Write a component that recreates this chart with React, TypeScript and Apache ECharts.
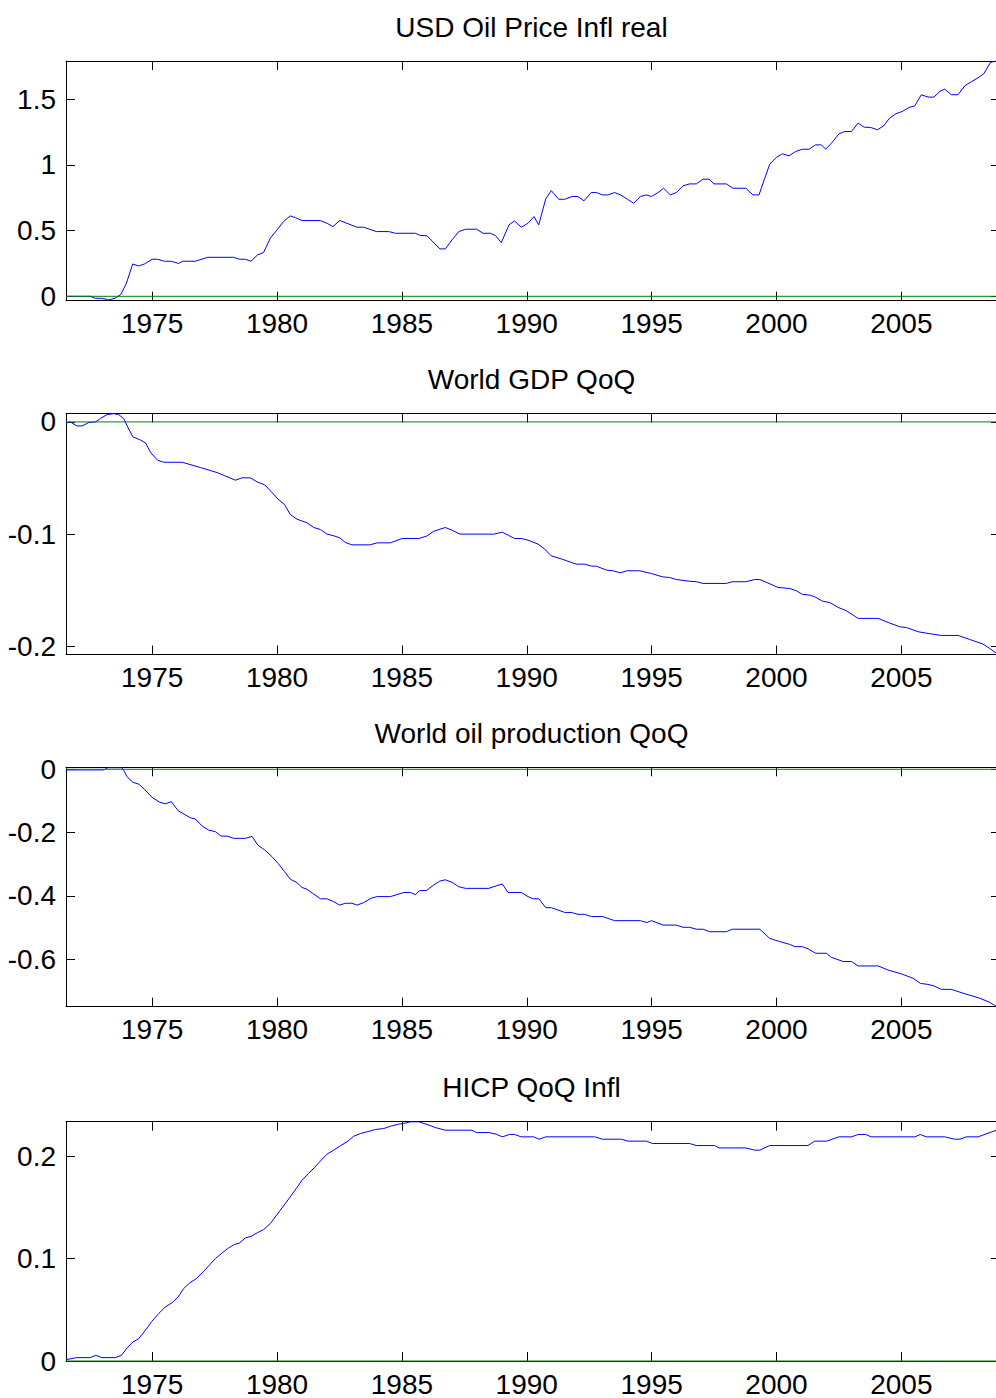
import React, { useEffect, useRef } from "react";
import * as echarts from "echarts";

const X_MIN = 1971.55;
const X_MAX = 2008.95;
const YEAR_TICKS = [1975, 1980, 1985, 1990, 1995, 2000, 2005];

const TITLES = [
  "USD Oil Price Infl real",
  "World GDP QoQ",
  "World oil production QoQ",
  "HICP QoQ Infl",
];

const OIL_PRICE: [number, number][] = [
  [1971.55, 0], [1972.52, 0], [1972.72, -0.015], [1972.99, -0.015], [1973.26, -0.028],
  [1973.53, -0.013], [1973.75, 0.015], [1973.97, 0.1], [1974.22, 0.246], [1974.46, 0.231],
  [1974.69, 0.246], [1975.0, 0.282], [1975.22, 0.282], [1975.49, 0.267], [1975.76, 0.267],
  [1976.06, 0.25], [1976.22, 0.267], [1976.73, 0.267], [1977.22, 0.297], [1978.26, 0.297],
  [1978.5, 0.282], [1978.73, 0.282], [1978.96, 0.267], [1979.22, 0.315], [1979.46, 0.333],
  [1979.73, 0.442], [1980.0, 0.506], [1980.26, 0.569], [1980.53, 0.612], [1980.73, 0.6],
  [1981.0, 0.577], [1981.73, 0.577], [1982.0, 0.556], [1982.24, 0.531], [1982.51, 0.577],
  [1982.8, 0.556], [1983.2, 0.526], [1983.47, 0.526], [1983.98, 0.493], [1984.47, 0.493],
  [1984.74, 0.48], [1985.54, 0.48], [1985.71, 0.465], [1986.01, 0.46], [1986.52, 0.361],
  [1986.74, 0.361], [1987.01, 0.43], [1987.28, 0.493], [1987.55, 0.511], [1987.99, 0.511],
  [1988.25, 0.48], [1988.55, 0.48], [1988.75, 0.462], [1988.98, 0.409], [1989.29, 0.544],
  [1989.51, 0.574], [1989.78, 0.526], [1990.05, 0.556], [1990.29, 0.607], [1990.48, 0.544],
  [1990.76, 0.742], [1990.98, 0.805], [1991.28, 0.739], [1991.52, 0.739], [1991.82, 0.76],
  [1992.05, 0.76], [1992.29, 0.727], [1992.58, 0.79], [1992.79, 0.79], [1993.03, 0.772],
  [1993.25, 0.772], [1993.52, 0.79], [1993.76, 0.772], [1994.03, 0.739], [1994.28, 0.709],
  [1994.55, 0.76], [1994.79, 0.772], [1994.99, 0.76], [1995.26, 0.79], [1995.48, 0.823],
  [1995.75, 0.772], [1995.99, 0.79], [1996.26, 0.841], [1996.52, 0.856], [1996.79, 0.856],
  [1997.06, 0.892], [1997.3, 0.892], [1997.5, 0.856], [1997.99, 0.856], [1998.26, 0.823],
  [1998.77, 0.823], [1999.06, 0.772], [1999.3, 0.772], [1999.53, 0.899], [1999.73, 1.006],
  [2000.0, 1.059], [2000.24, 1.085], [2000.5, 1.07], [2000.77, 1.103], [2001.04, 1.12],
  [2001.3, 1.12], [2001.56, 1.153], [2001.8, 1.153], [2001.97, 1.12], [2002.2, 1.166],
  [2002.5, 1.237], [2002.73, 1.255], [2003.0, 1.255], [2003.27, 1.319], [2003.51, 1.288],
  [2003.77, 1.286], [2004.04, 1.268], [2004.29, 1.298], [2004.53, 1.357], [2004.78, 1.39],
  [2005.04, 1.408], [2005.31, 1.438], [2005.54, 1.451], [2005.8, 1.535], [2006.07, 1.517],
  [2006.3, 1.517], [2006.54, 1.56], [2006.74, 1.578], [2007.0, 1.535], [2007.27, 1.535],
  [2007.54, 1.603], [2007.8, 1.634], [2008.07, 1.664], [2008.3, 1.695], [2008.57, 1.781],
  [2008.77, 1.792], [2008.95, 1.792],
];

const WORLD_GDP: [number, number][] = [
  [1971.55, -0.0009], [1971.72, 0], [1971.99, -0.0036], [1972.19, -0.0036], [1972.46, -0.0006],
  [1972.73, 0], [1972.93, 0.003], [1973.19, 0.0065], [1973.46, 0.0074], [1973.66, 0.0065],
  [1973.86, 0.003], [1974.02, -0.0045], [1974.23, -0.0134], [1974.5, -0.0158], [1974.73, -0.0187],
  [1974.95, -0.0276], [1975.22, -0.0342], [1975.46, -0.036], [1976.2, -0.036], [1976.93, -0.0407],
  [1977.6, -0.0452], [1978.33, -0.052], [1978.6, -0.0499], [1978.93, -0.0499], [1979.2, -0.0535],
  [1979.51, -0.0562], [1979.8, -0.063], [1980.04, -0.0689], [1980.3, -0.0737], [1980.53, -0.0826],
  [1980.8, -0.0868], [1981.2, -0.09], [1981.47, -0.0942], [1981.74, -0.096], [1982.0, -0.1001],
  [1982.27, -0.1016], [1982.51, -0.1034], [1982.74, -0.1076], [1983.0, -0.1097], [1983.71, -0.1097],
  [1984.01, -0.1079], [1984.54, -0.1079], [1985.01, -0.104], [1985.68, -0.104], [1985.99, -0.1019],
  [1986.28, -0.0975], [1986.74, -0.0942], [1987.01, -0.0966], [1987.32, -0.1001], [1988.68, -0.1001],
  [1989.02, -0.0984], [1989.25, -0.101], [1989.51, -0.104], [1989.78, -0.104], [1990.05, -0.1055],
  [1990.45, -0.109], [1990.72, -0.1135], [1990.98, -0.1195], [1991.45, -0.1227], [1991.98, -0.1269],
  [1992.32, -0.1269], [1992.59, -0.1287], [1992.79, -0.1287], [1993.19, -0.1322], [1993.45, -0.1328],
  [1993.75, -0.1346], [1994.01, -0.1328], [1994.52, -0.1328], [1994.99, -0.1352], [1995.43, -0.1382],
  [1995.72, -0.1388], [1995.99, -0.1406], [1996.46, -0.142], [1996.79, -0.1426], [1997.06, -0.1441],
  [1997.99, -0.1441], [1998.23, -0.1426], [1998.77, -0.1426], [1999.13, -0.1406], [1999.33, -0.1406],
  [1999.7, -0.1441], [2000.06, -0.1477], [2000.53, -0.1486], [2000.8, -0.1507], [2001.04, -0.1539],
  [2001.33, -0.1545], [2001.53, -0.156], [2001.84, -0.1599], [2002.13, -0.1611], [2002.47, -0.1655],
  [2002.8, -0.1685], [2003.27, -0.1753], [2004.07, -0.1753], [2004.47, -0.1789], [2004.94, -0.1828],
  [2005.2, -0.1834], [2005.67, -0.1872], [2006.07, -0.1887], [2006.6, -0.1905], [2007.27, -0.1905],
  [2007.74, -0.1941], [2008.27, -0.1982], [2008.54, -0.2021], [2008.81, -0.2065], [2008.95, -0.2075],
];

const OIL_PRODUCTION: [number, number][] = [
  [1971.55, -0.002], [1973.06, -0.002], [1973.22, 0.005], [1973.79, 0.005], [1973.89, -0.007],
  [1973.99, -0.023], [1974.23, -0.041], [1974.46, -0.047], [1974.69, -0.063], [1974.99, -0.088],
  [1975.3, -0.104], [1975.53, -0.109], [1975.77, -0.102], [1976.04, -0.131], [1976.33, -0.144],
  [1976.53, -0.153], [1976.73, -0.157], [1977.0, -0.179], [1977.26, -0.192], [1977.53, -0.197],
  [1977.76, -0.211], [1978.0, -0.211], [1978.27, -0.218], [1978.73, -0.218], [1979.0, -0.212],
  [1979.23, -0.239], [1979.51, -0.255], [1979.8, -0.276], [1980.04, -0.297], [1980.3, -0.323],
  [1980.53, -0.347], [1980.8, -0.358], [1981.0, -0.373], [1981.2, -0.379], [1981.47, -0.394],
  [1981.74, -0.409], [1982.0, -0.409], [1982.27, -0.418], [1982.51, -0.429], [1982.74, -0.423],
  [1983.0, -0.423], [1983.2, -0.429], [1983.47, -0.421], [1983.77, -0.407], [1984.01, -0.402],
  [1984.54, -0.402], [1985.08, -0.389], [1985.34, -0.389], [1985.54, -0.396], [1985.71, -0.383],
  [1985.98, -0.383], [1986.28, -0.365], [1986.52, -0.353], [1986.74, -0.349], [1987.01, -0.357],
  [1987.28, -0.371], [1987.55, -0.376], [1988.48, -0.376], [1988.78, -0.368], [1989.02, -0.362],
  [1989.25, -0.389], [1989.78, -0.389], [1990.05, -0.402], [1990.25, -0.409], [1990.49, -0.409],
  [1990.76, -0.437], [1990.98, -0.437], [1991.52, -0.452], [1991.78, -0.452], [1992.05, -0.458],
  [1992.32, -0.458], [1992.59, -0.465], [1993.03, -0.465], [1993.52, -0.478], [1994.55, -0.478],
  [1994.81, -0.484], [1994.99, -0.478], [1995.46, -0.492], [1995.99, -0.492], [1996.26, -0.499],
  [1996.52, -0.499], [1996.79, -0.505], [1997.06, -0.505], [1997.33, -0.513], [1997.99, -0.513],
  [1998.23, -0.505], [1999.33, -0.505], [1999.73, -0.534], [2000.13, -0.544], [2000.53, -0.553],
  [2000.73, -0.56], [2001.04, -0.56], [2001.26, -0.567], [2001.57, -0.581], [2002.0, -0.581],
  [2002.2, -0.594], [2002.67, -0.607], [2003.0, -0.607], [2003.27, -0.621], [2004.07, -0.621],
  [2004.47, -0.634], [2005.0, -0.646], [2005.47, -0.66], [2005.76, -0.676], [2006.03, -0.679],
  [2006.27, -0.683], [2006.6, -0.695], [2007.0, -0.695], [2007.47, -0.707], [2008.14, -0.723],
  [2008.54, -0.736], [2008.81, -0.749], [2008.95, -0.75],
];

const HICP: [number, number][] = [
  [1971.55, 0.0013], [1971.98, 0.0033], [1972.52, 0.0033], [1972.75, 0.0055], [1972.99, 0.0033],
  [1973.52, 0.0033], [1973.77, 0.0055], [1973.97, 0.012], [1974.23, 0.0186], [1974.46, 0.0218],
  [1974.73, 0.03], [1974.99, 0.0388], [1975.26, 0.0463], [1975.53, 0.0528], [1975.8, 0.057],
  [1976.04, 0.0625], [1976.26, 0.0707], [1976.5, 0.0762], [1976.77, 0.0805], [1977.0, 0.086],
  [1977.26, 0.0928], [1977.53, 0.1], [1977.8, 0.1055], [1978.06, 0.1104], [1978.29, 0.1137],
  [1978.5, 0.1153], [1978.73, 0.1202], [1978.96, 0.1218], [1979.22, 0.1254], [1979.46, 0.1283],
  [1979.73, 0.1342], [1980.0, 0.143], [1980.26, 0.1515], [1980.53, 0.1603], [1980.77, 0.1684],
  [1981.0, 0.1765], [1981.26, 0.1831], [1981.5, 0.1889], [1981.73, 0.1951], [1982.0, 0.202],
  [1982.27, 0.2059], [1982.53, 0.2101], [1982.8, 0.214], [1983.07, 0.2195], [1983.34, 0.2221],
  [1983.6, 0.2238], [1983.94, 0.2261], [1984.27, 0.227], [1984.54, 0.2293], [1984.87, 0.2313],
  [1985.07, 0.2319], [1985.34, 0.2336], [1985.68, 0.2336], [1986.01, 0.231], [1986.34, 0.228],
  [1986.74, 0.2254], [1987.81, 0.2254], [1987.99, 0.2231], [1988.48, 0.2231], [1988.78, 0.2215],
  [1989.02, 0.2189], [1989.31, 0.2212], [1989.51, 0.2212], [1989.78, 0.2189], [1990.28, 0.2189],
  [1990.49, 0.2166], [1990.76, 0.2189], [1992.72, 0.2189], [1993.03, 0.2166], [1993.79, 0.2166],
  [1994.05, 0.2147], [1994.79, 0.2147], [1995.03, 0.2124], [1996.52, 0.2124], [1996.79, 0.2104],
  [1997.52, 0.2104], [1997.7, 0.2081], [1998.77, 0.2081], [1999.13, 0.2059], [1999.33, 0.2059],
  [1999.73, 0.2104], [2001.26, 0.2104], [2001.53, 0.2147], [2002.0, 0.2147], [2002.5, 0.2189],
  [2003.0, 0.2189], [2003.27, 0.2212], [2003.57, 0.2212], [2003.8, 0.2189], [2005.54, 0.2189],
  [2005.76, 0.2212], [2006.0, 0.2189], [2006.74, 0.2189], [2007.14, 0.2166], [2007.34, 0.2166],
  [2007.6, 0.2189], [2008.07, 0.2189], [2008.81, 0.2254], [2008.95, 0.227],
];

const ZERO_LINE: [number, number][] = [
  [X_MIN, 0],
  [X_MAX, 0],
];

const SERIES_DATA = [OIL_PRICE, WORLD_GDP, OIL_PRODUCTION, HICP];

const Y_TICKS = [
  [0, 0.5, 1, 1.5],
  [-0.2, -0.1, 0],
  [-0.6, -0.4, -0.2, 0],
  [0, 0.1, 0.2],
];

const Y_LIMITS: [number, number][] = [
  [-0.0335, 1.792],
  [-0.2075, 0.0075],
  [-0.7497, 0.0063],
  [0, 0.2337],
];

// layout (pixels)
const GRID_LEFT = 66;
const GRID_WIDTH = 934;
const GRID_TOPS = [61, 413.5, 767.3, 1121.7];
const GRID_HEIGHTS = [239.7, 241, 239.4, 239.3];
const TITLE_OFFSET = 34;
const FONT = "'Liberation Sans', Arial, Helvetica, sans-serif";
const FONT_SIZE = 28;

function App() {
  const ref = useRef<HTMLDivElement>(null);

  useEffect(() => {
    document.body.style.margin = "0";
    document.body.style.overflow = "hidden";
    if (!ref.current) return;
    const chart = echarts.init(ref.current, undefined, { renderer: "svg" });

    const grids: any[] = [];
    const xAxes: any[] = [];
    const yAxes: any[] = [];
    const series: any[] = [];
    const graphics: any[] = [];

    const tickStyle = { color: "#000", width: 1 };

    for (let i = 0; i < 4; i++) {
      grids.push({
        left: GRID_LEFT,
        width: GRID_WIDTH,
        top: GRID_TOPS[i],
        height: GRID_HEIGHTS[i],
        containLabel: false,
        outerBoundsMode: "none",
      });
      // bottom x axis (labels)
      xAxes.push({
        type: "value",
        gridIndex: i,
        position: "bottom",
        min: X_MIN,
        max: X_MAX,
        axisLine: { show: true, onZero: false, lineStyle: { color: "#000", width: 1 } },
        axisTick: { show: true, inside: true, length: 9, lineStyle: tickStyle, customValues: YEAR_TICKS },
        axisLabel: {
          show: true,
          customValues: YEAR_TICKS,
          margin: 9,
          color: "#000",
          fontSize: FONT_SIZE,
          fontFamily: FONT,
          formatter: (v: number) => String(Math.round(v)),
        },
        splitLine: { show: false },
      });
      // top x axis (box)
      xAxes.push({
        type: "value",
        gridIndex: i,
        position: "top",
        min: X_MIN,
        max: X_MAX,
        axisLine: { show: true, onZero: false, lineStyle: { color: "#000", width: 1 } },
        axisTick: { show: true, inside: true, length: 9, lineStyle: tickStyle, customValues: YEAR_TICKS },
        axisLabel: { show: false },
        splitLine: { show: false },
      });
      // left y axis (labels)
      yAxes.push({
        type: "value",
        gridIndex: i,
        position: "left",
        min: Y_LIMITS[i][0],
        max: Y_LIMITS[i][1],
        axisLine: { show: true, onZero: false, lineStyle: { color: "#000", width: 1 } },
        axisTick: { show: true, inside: true, length: 9, lineStyle: tickStyle, customValues: Y_TICKS[i] },
        axisLabel: {
          show: true,
          customValues: Y_TICKS[i],
          margin: 10,
          color: "#000",
          fontSize: FONT_SIZE,
          fontFamily: FONT,
          formatter: (v: number) => String(Math.round(v * 100) / 100),
        },
        splitLine: { show: false },
      });
      // right y axis (box)
      yAxes.push({
        type: "value",
        gridIndex: i,
        position: "right",
        min: Y_LIMITS[i][0],
        max: Y_LIMITS[i][1],
        axisLine: { show: true, onZero: false, lineStyle: { color: "#000", width: 1 } },
        axisTick: { show: true, inside: true, length: 9, lineStyle: tickStyle, customValues: Y_TICKS[i] },
        axisLabel: { show: false },
        splitLine: { show: false },
      });

      series.push({
        type: "line",
        name: TITLES[i],
        xAxisIndex: i * 2,
        yAxisIndex: i * 2,
        data: SERIES_DATA[i],
        showSymbol: false,
        symbol: "none",
        clip: true,
        lineStyle: { color: "#0000ff", width: 1 },
        itemStyle: { color: "#0000ff" },
        silent: true,
        z: 2,
      });
      series.push({
        type: "line",
        name: "zero",
        xAxisIndex: i * 2,
        yAxisIndex: i * 2,
        data: ZERO_LINE,
        showSymbol: false,
        symbol: "none",
        clip: false,
        lineStyle: { color: "#008000", width: 1 },
        itemStyle: { color: "#008000" },
        silent: true,
        z: 3,
      });

      graphics.push({
        type: "text",
        x: GRID_LEFT + (997 - GRID_LEFT) / 2,
        y: GRID_TOPS[i] - TITLE_OFFSET,
        style: {
          text: TITLES[i],
          fill: "#000",
          fontSize: FONT_SIZE,
          fontFamily: FONT,
          align: "center",
          verticalAlign: "middle",
          textAlign: "center",
          textVerticalAlign: "middle",
        },
      });
    }

    chart.setOption({
      animation: false,
      backgroundColor: "#fff",
      grid: grids,
      xAxis: xAxes,
      yAxis: yAxes,
      series,
      graphic: graphics,
    });

    return () => {
      chart.dispose();
    };
  }, []);

  return <div ref={ref} style={{ width: 996, height: 1398 }} />;
}

export default App;
